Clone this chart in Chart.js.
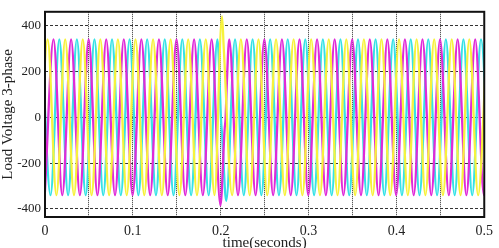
<!DOCTYPE html>
<html>
<head>
<meta charset="utf-8">
<script src="https://cdn.jsdelivr.net/npm/chart.js@4/dist/chart.umd.min.js"></script>
<style>
  html, body { margin: 0; padding: 0; background: #fff; }
  #wrap { width: 499px; height: 248px; }
</style>
</head>
<body>
<div id="wrap"><canvas id="loadChart"></canvas></div>
<script>
// Peak / trough times (s) and values (V), per phase
const yellowT = [-0.007,0.003,0.013,0.023,0.033,0.043,0.053,0.063,0.073,0.083,0.093,0.103,0.113,0.123,0.133,0.143,0.153,0.163,0.173,0.183,0.193,
    0.2015,0.2035,
    0.213,0.223,0.233,0.243,0.253,0.263,0.273,0.283,0.293,0.303,0.313,0.323,0.333,0.343,0.353,0.363,0.373,0.383,0.393,0.403,0.413,0.423,0.433,0.443,0.453,0.463,0.473,0.483,0.493,0.503];
const yellowV = [-340,340,-340,340,-340,340,-340,340,-340,340,-340,340,-340,340,-340,340,-340,340,-340,340,-340,
    440,300,
    -340,340,-340,340,-340,340,-340,340,-340,340,-340,340,-340,340,-340,340,-340,340,-340,340,-340,340,-340,340,-340,340,-340,340,-340,340];

const magentaT = [-0.0003,0.0097,0.0197,0.0297,0.0397,0.0497,0.0597,0.0697,0.0797,0.0897,0.0997,0.1097,0.1197,0.1297,0.1397,0.1497,0.1597,0.1697,0.1797,0.1897,0.1997,
    0.2045,0.2055,0.207,
    0.2097,0.2197,0.2297,0.2397,0.2497,0.2597,0.2697,0.2797,0.2897,0.2997,0.3097,0.3197,0.3297,0.3397,0.3497,0.3597,0.3697,0.3797,0.3897,0.3997,0.4097,0.4197,0.4297,0.4397,0.4497,0.4597,0.4697,0.4797,0.4897,0.4997,0.5097];
const magentaV = [-340,340,-340,340,-340,340,-340,340,-340,340,-340,340,-340,340,-340,340,-340,340,-340,340,-385,
    -50,-10,150,
    340,-340,340,-340,340,-340,340,-340,340,-340,340,-340,340,-340,340,-340,340,-340,340,-340,340,-340,340,-340,340,-340,340,-340,340,-340,340];

const cyanT = [-0.0037,0.0063,0.0163,0.0263,0.0363,0.0463,0.0563,0.0663,0.0763,0.0863,0.0963,0.1063,0.1163,0.1263,0.1363,0.1463,0.1563,0.1663,0.1763,0.1863,0.1963,
    0.2005,0.2015,
    0.2063,0.2163,0.2263,0.2363,0.2463,0.2563,0.2663,0.2763,0.2863,0.2963,0.3063,0.3163,0.3263,0.3363,0.3463,0.3563,0.3663,0.3763,0.3863,0.3963,0.4063,0.4163,0.4263,0.4363,0.4463,0.4563,0.4663,0.4763,0.4863,0.4963,0.5063];
const cyanV = [340,-340,340,-340,340,-340,340,-340,340,-340,340,-340,340,-340,340,-340,340,-340,340,-340,340,
    -20,-70,
    -365,340,-340,340,-340,340,-340,340,-340,340,-340,340,-340,340,-340,340,-340,340,-340,340,-340,340,-340,340,-340,340,-340,340,-340,340,-340];

const yTicks = [-400, -200, 0, 200, 400];

function toPoints(ts, vs) {
    return ts.map((t, i) => ({x: t, y: vs[i]}));
}

// frame round the plot area
const framePlugin = {
    id: 'frame',
    afterDraw(chart) {
        const a = chart.chartArea;
        const ctx = chart.ctx;
        ctx.save();
        ctx.strokeStyle = '#111';
        ctx.lineWidth = 2;
        ctx.strokeRect(a.left, a.top, a.right - a.left, a.bottom - a.top);
        ctx.restore();
    }
};

const serif = 'Liberation Serif';

const data = {
    datasets: [
        { label: 'Va', data: toPoints(yellowT, yellowV), borderColor: '#f7f23c' },
        { label: 'Vb', data: toPoints(magentaT, magentaV), borderColor: '#e02ad8' },
        { label: 'Vc', data: toPoints(cyanT, cyanV), borderColor: '#36e2e6' }
    ]
};
data.datasets.forEach(ds => {
    ds.borderWidth = 2.3;
    ds.pointRadius = 0;
    ds.fill = false;
    ds.cubicInterpolationMode = 'monotone';
});

const config = {
    type: 'line',
    data,
    plugins: [framePlugin],
    options: {
        responsive: true,
        maintainAspectRatio: false,
        animation: false,
        layout: { padding: { top: 7, right: 9, left: 0, bottom: 0 } },
        plugins: { legend: { display: false }, tooltip: { enabled: false } },
        scales: {
            x: {
                type: 'linear',
                min: 0, max: 0.5,
                z: 1,
                afterFit: s => { s.height = 31; },
                grid: { color: '#333', lineWidth: 1, drawTicks: false },
                border: { display: false, dash: [1, 1] },
                ticks: {
                    stepSize: 0.05, autoSkip: false, maxRotation: 0, padding: 6,
                    color: '#222', font: { family: serif, size: 14 },
                    callback: v => (Math.round(v * 100) % 10 === 0 ? String(Math.round(v * 10) / 10) : '')
                },
                title: {
                    display: true, text: 'time(seconds)', color: '#222',
                    font: { family: serif, size: 15 }, padding: { top: 0, bottom: -4 }
                }
            },
            y: {
                min: -435, max: 460,
                z: 1,
                afterFit: s => { s.width = 45; },
                afterBuildTicks: s => { s.ticks = yTicks.map(v => ({value: v})); },
                grid: { color: '#333', lineWidth: 1, drawTicks: false },
                border: { display: false, dash: [3, 2] },
                ticks: {
                    padding: 4, color: '#222', font: { family: serif, size: 13 }
                },
                title: {
                    display: true, text: 'Load Voltage 3-phase', color: '#222',
                    font: { family: serif, size: 15 }, padding: { top: -1, bottom: 0 }
                }
            }
        }
    }
};

const myChart = new Chart(document.getElementById('loadChart'), config);
</script>
</body>
</html>
